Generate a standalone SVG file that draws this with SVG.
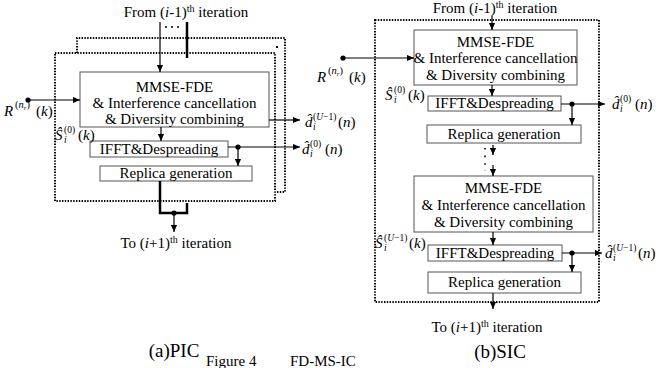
<svg xmlns="http://www.w3.org/2000/svg" width="663" height="368" viewBox="0 0 663 368" font-family="'Liberation Serif', 'Times New Roman', serif">
<defs>
<marker id="ah" viewBox="0 0 8 8" refX="8" refY="4" markerWidth="7" markerHeight="7" markerUnits="userSpaceOnUse" orient="auto">
<path d="M0,0.5 L8,4 L0,7.5 Z" fill="#000"/>
</marker>
<style>
text{font-family:"Liberation Serif",serif;fill:#000}
.bt{font-size:15px;text-anchor:middle}
.tt{font-size:15px;text-anchor:middle}
.cap{font-size:19px;text-anchor:middle}
.box{fill:#fff;stroke:#555;stroke-width:1}
.frame{fill:none;stroke:#000;stroke-width:2;stroke-dasharray:1.4 1.4}
.arr{fill:none;stroke:#000;stroke-width:1.2;marker-end:url(#ah)}
.thick{fill:none;stroke:#000;stroke-width:2.5}
.it{font-style:italic}
.m{font-size:15px}
.s{font-size:9.5px}
.sr{font-size:10.5px}
</style>
</defs>

<!-- ============ (a) PIC ============ -->
<g id="pic-frames">
<path class="frame" d="M77,53 V38 H285 V192 H276"/>
<rect x="276" y="46" width="2" height="2" fill="#000"/>
<rect class="frame" x="55" y="53" width="220" height="148"/>
</g>

<g id="pic-title">
<text class="tt" x="186" y="17">From (<tspan class="it">i</tspan>-1)<tspan font-size="10" dy="-5">th</tspan><tspan dy="5"> iteration</tspan></text>
</g>

<g id="pic-mmse">
<rect class="box" x="80" y="72" width="189" height="55"/>
<text class="bt" x="174.5" y="92">MMSE-FDE</text>
<text class="bt" x="174.5" y="108">&amp; Interference cancellation</text>
<text class="bt" x="174.5" y="124">&amp; Diversity combining</text>
</g>
<g id="pic-ifft">
<rect class="box" x="90" y="141" width="138" height="16"/>
<text class="bt" x="159" y="154">IFFT&amp;Despreading</text>
</g>
<g id="pic-replica">
<rect class="box" x="100" y="166" width="152" height="15"/>
<text class="bt" x="176" y="178">Replica generation</text>
</g>

<g id="pic-labels">
<text class="m it" x="4" y="116">R</text>
<text class="sr" x="15" y="108">(<tspan class="it">n</tspan><tspan font-size="7" dy="2" class="it">r</tspan><tspan dy="-2">)</tspan></text>
<text class="m" x="36" y="116">(<tspan class="it">k</tspan>)</text>

<text class="m it" x="55" y="140">Ŝ</text>
<text class="s it" x="64" y="143">i</text>
<text class="s" x="64" y="133">(0)</text>
<text class="m" x="78" y="140">(<tspan class="it">k</tspan>)</text>

<text class="m it" x="305" y="127">d̂</text>
<text class="s it" x="313" y="130">i</text>
<text class="s" x="313" y="120">(<tspan class="it">U</tspan>−1)</text>
<text class="m" x="338" y="127">(<tspan class="it">n</tspan>)</text>

<text class="m it" x="302" y="154">d̂</text>
<text class="s it" x="310" y="157">i</text>
<text class="s" x="310" y="147">(0)</text>
<text class="m" x="325" y="154">(<tspan class="it">n</tspan>)</text>
</g>

<g id="pic-bottom">
<text class="tt" x="176" y="248">To (<tspan class="it">i</tspan>+1)<tspan font-size="10" dy="-5">th</tspan><tspan dy="5"> iteration</tspan></text>
<text class="cap" x="174" y="357">(a)PIC</text>
</g>

<g id="pic-connectors">
<line class="arr" x1="160" y1="22" x2="160" y2="72"/>
<line x1="165" y1="27" x2="183" y2="27" stroke="#000" stroke-width="1.5" stroke-dasharray="2 4"/>
<line class="thick" x1="187" y1="22" x2="187" y2="58"/>
<circle cx="28" cy="100" r="2.6"/>
<line class="arr" x1="28" y1="100" x2="80" y2="100"/>
<line class="arr" x1="161" y1="127" x2="161" y2="141"/>
<line class="arr" x1="269" y1="120" x2="300" y2="120"/>
<line class="arr" x1="228" y1="147" x2="300" y2="147"/>
<circle cx="238" cy="147" r="2.6"/>
<line class="arr" x1="238" y1="147" x2="238" y2="166"/>
<path class="thick" d="M160,181 V213 H187 V203"/>
<circle cx="174" cy="213" r="2.6"/>
<line class="arr" x1="174" y1="213" x2="174" y2="232"/>
</g>

<!-- ============ (b) SIC ============ -->
<g id="sic-frame">
<rect class="frame" x="375" y="20" width="224" height="282"/>
</g>

<g id="sic-title">
<text class="tt" x="495" y="13">From (<tspan class="it">i</tspan>-1)<tspan font-size="10" dy="-5">th</tspan><tspan dy="5"> iteration</tspan></text>
</g>

<g id="sic-mmse1">
<rect class="box" x="414" y="30" width="163" height="55"/>
<text class="bt" x="495.5" y="47">MMSE-FDE</text>
<text class="bt" x="495.5" y="63">&amp; Interference cancellation</text>
<text class="bt" x="495.5" y="80">&amp; Diversity combining</text>
</g>
<g id="sic-ifft1">
<rect class="box" x="428" y="96" width="133" height="15"/>
<text class="bt" x="494.5" y="108">IFFT&amp;Despreading</text>
</g>
<g id="sic-replica1">
<rect class="box" x="427" y="125" width="154" height="18"/>
<text class="bt" x="504" y="139">Replica generation</text>
</g>
<g id="sic-mmse2">
<rect class="box" x="414" y="176" width="179" height="56"/>
<text class="bt" x="503.5" y="193">MMSE-FDE</text>
<text class="bt" x="503.5" y="210">&amp; Interference cancellation</text>
<text class="bt" x="503.5" y="227">&amp; Diversity combining</text>
</g>
<g id="sic-ifft2">
<rect class="box" x="428" y="245" width="134" height="16"/>
<text class="bt" x="495" y="258">IFFT&amp;Despreading</text>
</g>
<g id="sic-replica2">
<rect class="box" x="428" y="272" width="153" height="21"/>
<text class="bt" x="504.5" y="287">Replica generation</text>
</g>

<g id="sic-labels">
<text class="m it" x="317" y="82">R</text>
<text class="sr" x="328" y="74">(<tspan class="it">n</tspan><tspan font-size="7" dy="2" class="it">r</tspan><tspan dy="-2">)</tspan></text>
<text class="m" x="349" y="82">(<tspan class="it">k</tspan>)</text>

<text class="m it" x="385" y="100">Ŝ</text>
<text class="s it" x="394" y="103">i</text>
<text class="s" x="394" y="93">(0)</text>
<text class="m" x="408" y="100">(<tspan class="it">k</tspan>)</text>

<text class="m it" x="612" y="109">d̂</text>
<text class="s it" x="620" y="112">i</text>
<text class="s" x="620" y="102">(0)</text>
<text class="m" x="635" y="109">(<tspan class="it">n</tspan>)</text>

<text class="m it" x="375" y="248">Ŝ</text>
<text class="s it" x="384" y="251">i</text>
<text class="s" x="384" y="241">(<tspan class="it">U</tspan>−1)</text>
<text class="m" x="409" y="248">(<tspan class="it">k</tspan>)</text>

<text class="m it" x="605" y="258">d̂</text>
<text class="s it" x="613" y="261">i</text>
<text class="s" x="613" y="251">(<tspan class="it">U</tspan>−1)</text>
<text class="m" x="638" y="258">(<tspan class="it">n</tspan>)</text>
</g>

<g id="sic-bottom">
<text class="tt" x="487" y="332">To (<tspan class="it">i</tspan>+1)<tspan font-size="10" dy="-5">th</tspan><tspan dy="5"> iteration</tspan></text>
<text class="cap" x="500" y="358">(b)SIC</text>
</g>

<g id="sic-connectors">
<line class="arr" x1="492" y1="16" x2="492" y2="30"/>
<circle cx="343" cy="58" r="2.6"/>
<line class="arr" x1="343" y1="58" x2="414" y2="58"/>
<line class="arr" x1="492" y1="85" x2="492" y2="96"/>
<line class="arr" x1="561" y1="104" x2="605" y2="104"/>
<circle cx="572" cy="104" r="2.6"/>
<line class="arr" x1="572" y1="104" x2="572" y2="125"/>
<line class="arr" x1="493" y1="145" x2="493" y2="155"/>
<line x1="485" y1="148" x2="485" y2="171" stroke="#000" stroke-width="1.6" stroke-dasharray="1.6 6"/>
<line class="arr" x1="493" y1="165" x2="493" y2="176"/>
<line class="arr" x1="493" y1="232" x2="493" y2="245"/>
<line class="arr" x1="562" y1="253" x2="602" y2="253"/>
<circle cx="572" cy="253" r="2.6"/>
<line class="arr" x1="572" y1="253" x2="572" y2="272"/>
<line class="arr" x1="493" y1="293" x2="493" y2="309"/>
</g>

<g id="caption">
<text font-size="15" x="206" y="366">Figure 4</text>
<text font-size="15" x="290" y="366">FD-MS-IC</text>
</g>
</svg>
